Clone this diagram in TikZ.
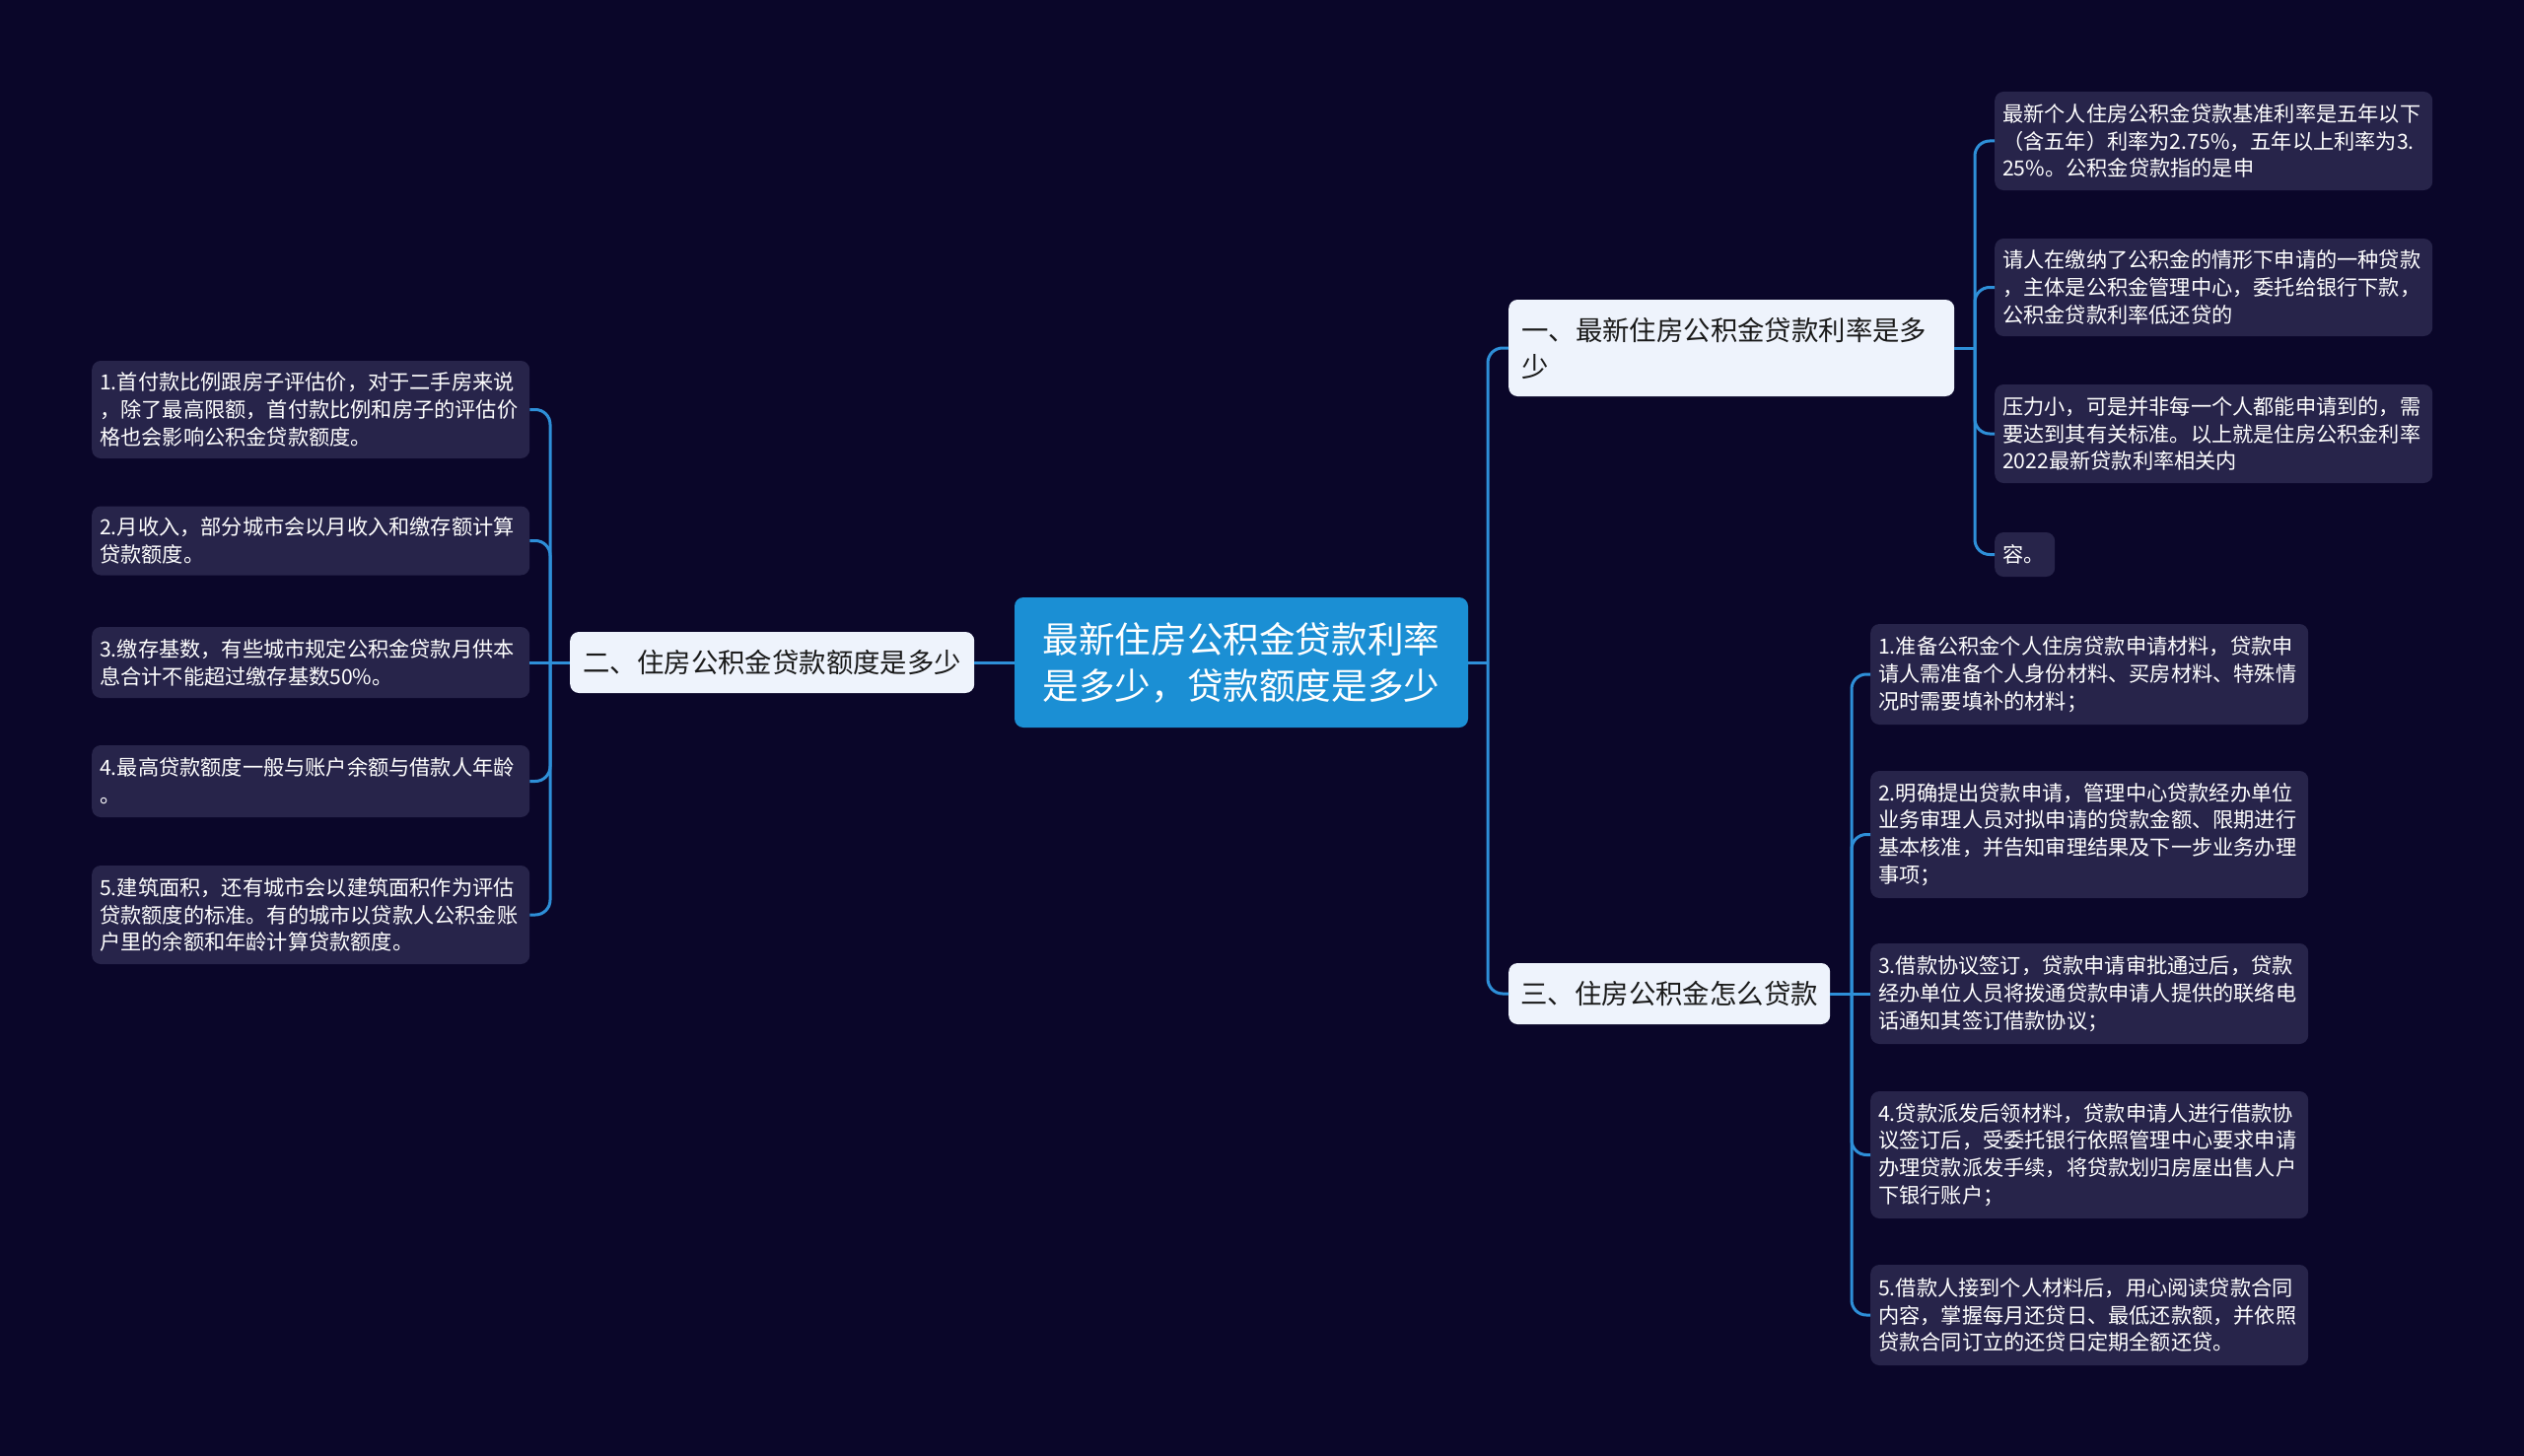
\documentclass[tikz,border=0pt]{standalone}
\usepackage{fontspec}
\newfontfamily\cjk{Noto Sans CJK SC}
\definecolor{bgc}{HTML}{0A0629}
\definecolor{leafc}{HTML}{27244A}
\definecolor{linec}{HTML}{2E8FD8}
\definecolor{branchc}{HTML}{EEF3FC}
\definecolor{rootc}{HTML}{1B8FD4}
\definecolor{darktext}{HTML}{1A1A1A}
\begin{document}
\begin{tikzpicture}[x=1pt,y=1pt,
 leaf/.style={fill=leafc, rounded corners=9pt, text=white, anchor=west, align=left,
   inner xsep=8pt, inner ysep=0pt, text width=428pt,
   font=\cjk\fontsize{21.2}{27.8}\selectfont},
 branch/.style={fill=branchc, rounded corners=9pt, text=darktext, anchor=west, align=left,
   inner xsep=0pt, inner ysep=0pt, font=\cjk\fontsize{27.4}{37}\selectfont},
 root/.style={fill=rootc, rounded corners=9pt, text=white, align=center,
   inner sep=0pt, font=\cjk\fontsize{36.6}{47}\selectfont},
 conn/.style={draw=linec, line width=3pt, rounded corners=15pt},
]
\path[fill=bgc] (0,0) rectangle (2560,-1477);

% root
\node[root, minimum width=460pt, minimum height=132pt] (root) at (1259,-672)
 {最新住房公积金贷款利率\\是多少，贷款额度是多少};

% branches
\node[branch, minimum width=410pt, minimum height=62pt] (b2) at (578,-672)
 {二、住房公积金贷款额度是多少};
\node[branch, minimum width=452pt, minimum height=98pt, text width=426pt, inner xsep=13pt] (b1) at (1530,-353)
 {一、最新住房公积金贷款利率是多\\少};
\node[branch, minimum width=326pt, minimum height=62pt] (b3) at (1530,-1008)
 {三、住房公积金怎么贷款};

% left leaves
\node[leaf, minimum height=99pt] (l1) at (93,-415.5)
 {1.首付款比例跟房子评估价，对于二手房来说\\，除了最高限额，首付款比例和房子的评估价\\格也会影响公积金贷款额度。};
\node[leaf, minimum height=70pt] (l2) at (93,-548.5)
 {2.月收入，部分城市会以月收入和缴存额计算\\贷款额度。};
\node[leaf, minimum height=72pt] (l3) at (93,-672)
 {3.缴存基数，有些城市规定公积金贷款月供本\\息合计不能超过缴存基数50\%。};
\node[leaf, minimum height=73pt] (l4) at (93,-792.5)
 {4.最高贷款额度一般与账户余额与借款人年龄\\。};
\node[leaf, minimum height=100pt] (l5) at (93,-928)
 {5.建筑面积，还有城市会以建筑面积作为评估\\贷款额度的标准。有的城市以贷款人公积金账\\户里的余额和年龄计算贷款额度。};

% branch 1 leaves
\node[leaf, minimum height=100pt] (a1) at (2023,-143)
 {最新个人住房公积金贷款基准利率是五年以下\\（含五年）利率为2.75\%，五年以上利率为3.\\25\%。公积金贷款指的是申};
\node[leaf, minimum height=99pt] (a2) at (2023,-291.5)
 {请人在缴纳了公积金的情形下申请的一种贷款\\，主体是公积金管理中心，委托给银行下款，\\公积金贷款利率低还贷的};
\node[leaf, minimum height=100pt] (a3) at (2023,-440)
 {压力小，可是并非每一个人都能申请到的，需\\要达到其有关标准。以上就是住房公积金利率\\2022最新贷款利率相关内};
\node[leaf, minimum height=45pt, text width=45pt] (a4) at (2023,-562.5)
 {容。};

% branch 3 leaves
\node[leaf, minimum height=102pt] (c1) at (1897,-684)
 {1.准备公积金个人住房贷款申请材料，贷款申\\请人需准备个人身份材料、买房材料、特殊情\\况时需要填补的材料；};
\node[leaf, minimum height=129pt] (c2) at (1897,-846.5)
 {2.明确提出贷款申请，管理中心贷款经办单位\\业务审理人员对拟申请的贷款金额、限期进行\\基本核准，并告知审理结果及下一步业务办理\\事项；};
\node[leaf, minimum height=102pt] (c3) at (1897,-1008)
 {3.借款协议签订，贷款申请审批通过后，贷款\\经办单位人员将拨通贷款申请人提供的联络电\\话通知其签订借款协议；};
\node[leaf, minimum height=129pt] (c4) at (1897,-1171.5)
 {4.贷款派发后领材料，贷款申请人进行借款协\\议签订后，受委托银行依照管理中心要求申请\\办理贷款派发手续，将贷款划归房屋出售人户\\下银行账户；};
\node[leaf, minimum height=102pt] (c5) at (1897,-1334)
 {5.借款人接到个人材料后，用心阅读贷款合同\\内容，掌握每月还贷日、最低还款额，并依照\\贷款合同订立的还贷日定期全额还贷。};

% junctions
\coordinate (jr) at (1509,-672);
\coordinate (jl) at (558,-672);
\coordinate (j1) at (2003,-353);
\coordinate (j3) at (1878,-1008);

% connectors
\draw[conn] (root.east) -- (jr);
\draw[conn] (jr) |- (b1.west);
\draw[conn] (jr) |- (b3.west);

\draw[conn] (root.west) -- (b2.east);
\draw[conn] (b2.west) -- (jl);
\foreach \n in {l1,l2,l4,l5} {\draw[conn] (jl) |- (\n.east);}
\draw[conn] (jl) -- (l3.east);

\draw[conn] (b1.east) -- (j1);
\foreach \n in {a1,a2,a3,a4} {\draw[conn] (j1) |- (\n.west);}

\draw[conn] (b3.east) -- (j3);
\foreach \n in {c1,c2,c4,c5} {\draw[conn] (j3) |- (\n.west);}
\draw[conn] (j3) -- (c3.west);
\end{tikzpicture}
\end{document}
